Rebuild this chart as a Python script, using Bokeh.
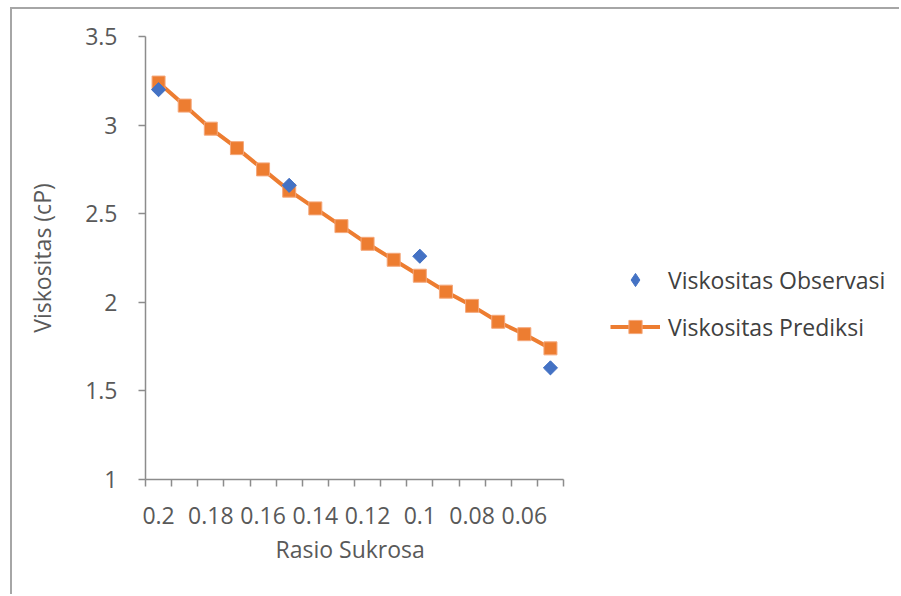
import math
from bokeh.plotting import figure
from bokeh.models import Range1d, FixedTicker, NumeralTickFormatter, Legend, LegendItem, Title
from bokeh.embed import file_html
from bokeh.resources import INLINE

# Sucrose ratio categories (descending) and predicted viscosity
rasio = [0.2, 0.19, 0.18, 0.17, 0.16, 0.15, 0.14, 0.13, 0.12, 0.11, 0.1, 0.09, 0.08, 0.07, 0.06, 0.05]
viskositas_prediksi = [3.24, 3.11, 2.98, 2.87, 2.75, 2.63, 2.53, 2.43, 2.33, 2.24, 2.15, 2.06, 1.98, 1.89, 1.82, 1.74]

# Observed viscosity at a few ratios
rasio_observasi = [0.2, 0.15, 0.1, 0.05]
viskositas_observasi = [3.2, 2.66, 2.26, 1.63]

# Axis ticks
x_label_ticks = [0.2, 0.18, 0.16, 0.14, 0.12, 0.1, 0.08, 0.06]
y_ticks = [1, 1.5, 2, 2.5, 3, 3.5]

FONT = "Open Sans"
FS = "23px"
TXT = "#595959"
AXC = "#8c8c8c"

# Layout (pixels): the frame runs to the right edge so the legend can sit
# inside it; the x axis itself is limited to the data span via bounds.
FIG_W, FIG_H = 889, 587
BORDER_L, BORDER_R, BORDER_T, BORDER_B = 133, 2, 27, 117
AXIS_PX = 418
frame_w = FIG_W - BORDER_L - BORDER_R

step = 0.01
x_start = rasio[0] + step / 2
x_stop = rasio[-1] - step / 2
x_far = x_start - (x_start - x_stop) * frame_w / AXIS_PX
boundaries = [round(x_start - step * i, 3) for i in range(len(rasio) + 1)]

p = figure(
    width=FIG_W, height=FIG_H,
    x_range=Range1d(x_start, x_far), y_range=Range1d(1, 3.5),
    output_backend="svg", toolbar_location=None,
    min_border_left=BORDER_L, min_border_right=BORDER_R,
    min_border_top=BORDER_T, min_border_bottom=BORDER_B,
    y_axis_label="Viskositas (cP)",
)
p.styles = {"border-left": "2px solid #a6a6a6", "border-top": "2px solid #a6a6a6",
            "margin-left": "10px", "margin-top": "7px"}
p.outline_line_color = None
p.grid.visible = False
p.background_fill_color = "white"
p.border_fill_color = "white"

xa = p.xaxis[0]
xa.bounds = (x_stop, x_start)
xa.ticker = FixedTicker(ticks=x_label_ticks, minor_ticks=boundaries)
xa.formatter = NumeralTickFormatter(format="0.[00]")
xa.major_tick_out = 0
xa.major_tick_in = 0
xa.minor_tick_out = 7
xa.minor_tick_in = 0
xa.major_label_standoff = 20

ya = p.yaxis[0]
ya.ticker = FixedTicker(ticks=y_ticks)
ya.formatter = NumeralTickFormatter(format="0.[0]")
ya.major_tick_out = 7
ya.major_tick_in = 0
ya.minor_tick_out = 0
ya.minor_tick_in = 0
ya.major_label_standoff = 21
ya.axis_label_standoff = 24

for ax in (xa, ya):
    ax.axis_line_color = AXC
    ax.axis_line_width = 1.5
    ax.major_tick_line_color = AXC
    ax.major_tick_line_width = 1.5
    ax.minor_tick_line_color = AXC
    ax.minor_tick_line_width = 1.5
    ax.major_label_text_font = FONT
    ax.major_label_text_font_size = FS
    ax.major_label_text_color = TXT
    ax.axis_label_text_font = FONT
    ax.axis_label_text_font_size = FS
    ax.axis_label_text_font_style = "normal"
    ax.axis_label_text_color = TXT

# x-axis title, centred under the axis span rather than the whole frame
x_title = Title(text="Rasio Sukrosa", align="left", offset=130, standoff=9,
                text_font=FONT, text_font_size=FS, text_font_style="normal",
                text_color=TXT)
p.add_layout(x_title, "below")

orange = "#ED7D31"
blue = "#4472C4"

line_r = p.line(rasio, viskositas_prediksi, line_color=orange, line_width=4)
sq_r = p.scatter(rasio, viskositas_prediksi, marker="square", size=13,
                 fill_color=orange, line_color="#F4A77A", line_width=1)
# legend swatch for the observed series (legend markers are drawn unrotated);
# it sits underneath the rotated squares drawn next
obs_key = p.scatter(rasio_observasi, viskositas_observasi, marker="diamond", size=13,
                    fill_color=blue, line_color=blue)
obs_r = p.scatter(rasio_observasi, viskositas_observasi, marker="square", size=10,
                  angle=math.pi / 4, fill_color=blue, line_color=blue, line_width=1)

legend = Legend(
    items=[LegendItem(label="Viskositas Observasi", renderers=[obs_key]),
           LegendItem(label="Viskositas Prediksi", renderers=[line_r, sq_r])],
    location=(465, 136),
    glyph_width=50, glyph_height=33, label_height=33, spacing=14,
    label_standoff=8, padding=0, margin=0,
    border_line_alpha=0, background_fill_alpha=0,
    label_text_font=FONT, label_text_font_size=FS, label_text_color="#404040",
)
p.add_layout(legend, "center")

open("out.html", "w").write(file_html(p, INLINE))
